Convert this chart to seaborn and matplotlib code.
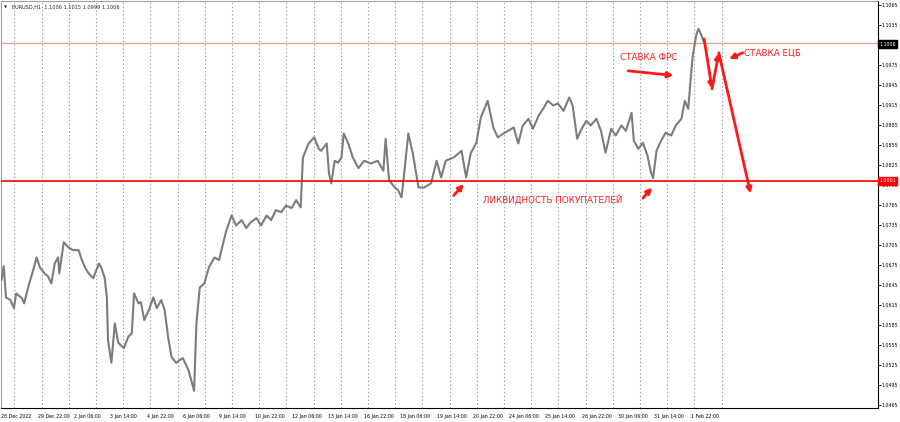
import numpy as np
import pandas as pd
import seaborn as sns
import matplotlib.pyplot as plt
import matplotlib.transforms as mtransforms

# hourly bar index and price
hours = [0, 2, 4, 8, 11, 13, 18, 20, 24, 28, 31, 34, 38, 41, 44, 47, 50, 51, 55, 59,
         63, 68, 71, 74, 77, 81, 86, 88, 91, 93, 94, 97, 100, 103, 108, 112, 115, 117, 121, 123,
         126, 130, 134, 137, 141, 144, 147, 150, 154, 160, 165, 169, 170, 172, 175, 179, 183, 188, 192, 198,
         203, 207, 212, 216, 220, 225, 229, 234, 238, 242, 247, 251, 256, 260, 264, 266, 271, 276, 280, 282,
         287, 289, 291, 294, 297, 300, 302, 306, 310, 315, 320, 326, 332, 337, 339, 342, 347, 350, 353, 355,
         359, 363, 368, 373, 379, 384, 388, 392, 399, 406, 410, 414, 419, 423, 429, 434, 438, 443, 447, 452,
         456, 460, 465, 469, 474, 478, 482, 487, 491, 496, 501, 504, 508, 511, 516, 520, 525, 529, 533, 538,
         542, 547, 551, 556, 558, 562, 566, 570, 573, 575, 578, 582, 586, 591, 595, 600, 603, 606, 608, 610,
         613, 615, 617, 620]
price = [1.0652, 1.0673, 1.0626, 1.0622, 1.0610, 1.0632, 1.0625, 1.0617, 1.0644, 1.0667,
         1.0686, 1.0671, 1.0662, 1.0658, 1.0647, 1.0677, 1.0686, 1.0662, 1.0709, 1.0701,
         1.0697, 1.0697, 1.0682, 1.0670, 1.0662, 1.0655, 1.0677, 1.0671, 1.0656, 1.0626,
         1.0562, 1.0528, 1.0587, 1.0558, 1.0550, 1.0567, 1.0572, 1.0632, 1.0617, 1.0619,
         1.0592, 1.0607, 1.0626, 1.0610, 1.0622, 1.0607, 1.0567, 1.0537, 1.0528, 1.0535,
         1.0517, 1.0492, 1.0486, 1.0587, 1.0641, 1.0647, 1.0671, 1.0686, 1.0682, 1.0724,
         1.0749, 1.0734, 1.0742, 1.0730, 1.0739, 1.0745, 1.0734, 1.0749, 1.0742, 1.0757,
         1.0754, 1.0764, 1.0760, 1.0772, 1.0761, 1.0836, 1.0857, 1.0866, 1.0849, 1.0846,
         1.0857, 1.0812, 1.0797, 1.0831, 1.0828, 1.0836, 1.0872, 1.0857, 1.0836, 1.0820,
         1.0831, 1.0827, 1.0831, 1.0816, 1.0864, 1.0802, 1.0791, 1.0787, 1.0776, 1.0806,
         1.0872, 1.0842, 1.0791, 1.0791, 1.0797, 1.0831, 1.0806, 1.0831, 1.0836, 1.0846,
         1.0806, 1.0842, 1.0858, 1.0896, 1.0921, 1.0881, 1.0866, 1.0872, 1.0876, 1.0881,
         1.0857, 1.0884, 1.0894, 1.0879, 1.0899, 1.0909, 1.0921, 1.0914, 1.0917, 1.0906,
         1.0926, 1.0914, 1.0864, 1.0876, 1.0891, 1.0884, 1.0894, 1.0876, 1.0843, 1.0879,
         1.0869, 1.0884, 1.0876, 1.0903, 1.0861, 1.0849, 1.0858, 1.0839, 1.0814, 1.0805,
         1.0846, 1.0861, 1.0873, 1.0869, 1.0884, 1.0894, 1.0921, 1.0909, 1.0951, 1.0989,
         1.1019, 1.1029, 1.1022, 1.1008]

time_labels = ["28 Dec 2022", "29 Dec 22:00", "2 Jan 06:00", "3 Jan 14:00", "4 Jan 22:00",
               "6 Jan 06:00", "9 Jan 14:00", "10 Jan 22:00", "12 Jan 06:00", "13 Jan 14:00",
               "16 Jan 22:00", "18 Jan 06:00", "19 Jan 14:00", "20 Jan 22:00", "24 Jan 06:00",
               "25 Jan 14:00", "26 Jan 22:00", "30 Jan 06:00", "31 Jan 14:00", "1 Feb 22:00"]
label_step = 32
price_ticks = [1.0465 + 0.003 * k for k in range(21)]

level_support = 1.0801
level_bid = 1.1006
level_line = 1.1008
header = "EURUSD,H1  1.1006 1.1015 1.0999 1.1006"

df = pd.DataFrame({"hour": hours, "price": price})

sns.set_style("white")
plt.rcParams['font.family'] = ['DejaVu Sans']

fig = plt.figure(figsize=(9, 4.22), dpi=100)
ax = fig.add_axes([0.001, 0.033, 0.974, 0.965])

# day separators
for k in range(27):
    ax.axvline(11.5 + 24 * k, color='#9a9a9a', lw=0.8, ls=(0, (1.2, 2.2)), zorder=0)

sns.lineplot(data=df, x="hour", y="price", color='#7c7c7c', lw=1.5, ax=ax, zorder=3)

ax.axhline(level_support, color='#ff0000', lw=1.2, zorder=4)
ax.axhline(level_line, color='#e8a08a', lw=0.9, zorder=2)

ax.set_xlim(-0.5, 773)
ax.set_ylim(1.0460, 1.1071)

ax.yaxis.tick_right()
ax.set_yticks(price_ticks)
# the label under the bid box is hidden on the terminal scale
ax.set_yticklabels(["" if abs(v - level_bid) < 0.001 else f"{v:.4f}" for v in price_ticks])
ax.set_xticks([label_step * i for i in range(len(time_labels))])
ax.set_xticklabels(time_labels, ha='left')
ax.tick_params(axis='x', labelsize=3.4, length=2.5, width=0.6, pad=1.5, colors='black')
ax.tick_params(axis='y', labelsize=3.4, length=2.0, width=0.6, pad=0.8, colors='black')
ax.set_xlabel("")
ax.set_ylabel("")
for s in ax.spines.values():
    s.set_color('black')
    s.set_linewidth(0.8)
ax.spines['left'].set_color('#a0a0a0')
ax.spines['top'].set_color('#a0a0a0')

# price boxes on the scale
trans = mtransforms.blended_transform_factory(ax.transAxes, ax.transData)
ax.text(1.002, level_bid, "1.1006", transform=trans, fontsize=3.4, color='white', va='center',
        ha='left', bbox=dict(boxstyle='square,pad=0.3', fc='black', ec='black'), zorder=6, clip_on=False)
ax.text(1.002, level_support, "1.0801", transform=trans, fontsize=3.4, color='white', va='center',
        ha='left', bbox=dict(boxstyle='square,pad=0.3', fc='#ff0000', ec='#ff0000'), zorder=6, clip_on=False)

# header
ax.text(0.004, 0.988, "\u25BC", transform=ax.transAxes, fontsize=3.0, va='top', ha='left')
ax.text(0.013, 0.99, header, transform=ax.transAxes, fontsize=3.6, va='top', ha='left')

# red annotations
red = '#ff1a1a'
ax.text(571, 1.0986, "СТАВКА ФРС", color=red, fontsize=6.3, ha='center', va='center')
ax.text(680, 1.0992, "СТАВКА ЕЦБ", color=red, fontsize=6.3, ha='center', va='center')
ax.text(486, 1.0773, "ЛИКВИДНОСТЬ ПОКУПАТЕЛЕЙ", color=red, fontsize=6.3, ha='center', va='center')

arrows = [((553, 1.0966), (593, 1.0959)),
          ((654, 1.0993), (642, 1.0984)),
          ((399, 1.0779), (408, 1.0796)),
          ((566, 1.0775), (574, 1.0791)),
          ((620, 1.1014), (627, 1.0939)),
          ((627, 1.0939), (633, 1.0993)),
          ((633, 1.0993), (661, 1.0782))]
for start, end in arrows:
    ax.annotate("", xy=end, xytext=start,
                arrowprops=dict(arrowstyle='-|>', color=red, lw=2.0, mutation_scale=8,
                                shrinkA=0, shrinkB=0), zorder=7)

fig.savefig("out.png", dpi=100)
